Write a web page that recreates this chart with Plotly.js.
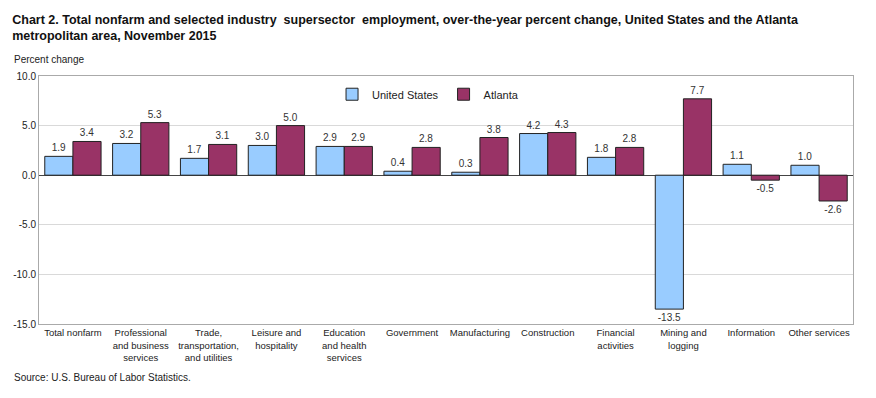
<!DOCTYPE html>
<html><head><meta charset="utf-8">
<script src="https://cdn.plot.ly/plotly-3.0.1.min.js"></script>
<style>body{margin:0;background:#fff}#c{width:876px;height:398px}</style>
</head><body><div id="c"></div>
<script>
const categories = ["Total nonfarm","Professional<br>and business<br>services","Trade,<br>transportation,<br>and utilities","Leisure and<br>hospitality","Education<br>and health<br>services","Government","Manufacturing","Construction","Financial<br>activities","Mining and<br>logging","Information","Other services"];
const unitedStates = [1.9,3.2,1.7,3.0,2.9,0.4,0.3,4.2,1.8,-13.5,1.1,1.0];
const atlanta = [3.4,5.3,3.1,5.0,2.9,2.8,3.8,4.3,2.8,7.7,-0.5,-2.6];
const yTicks = [10,5,0,-5,-10,-15];

const font = {family:"Liberation Sans, Arial, sans-serif", size:10, color:"#222"};
function bar(name, vals, color){
  return {type:"bar", name:name, x:categories, y:vals,
    marker:{color:color, line:{color:"#222", width:1}},
    text:vals.map(v=>v.toFixed(1)), textposition:"outside", cliponaxis:false,
    textfont:{family:font.family,size:10,color:"#333"}, hoverinfo:"none"};
}
const data = [bar("United States", unitedStates, "#99CCFF"), bar("Atlanta", atlanta, "#993366")];
const layout = {
  width:876, height:398, paper_bgcolor:"#fff", plot_bgcolor:"#fff",
  margin:{l:39, r:23, t:76, b:74},
  barmode:"group", bargap:0.17, bargroupgap:0,
  font:font, showlegend:true,
  legend:{orientation:"h", x:0.36, y:0.985, xanchor:"left", yanchor:"top", font:{family:font.family,size:11,color:"#222"}, bgcolor:"rgba(0,0,0,0)", traceorder:"normal", itemwidth:30},
  xaxis:{type:"category", showgrid:false, ticks:"", tickfont:{family:font.family,size:9.5,color:"#222"}, showline:true, linecolor:"#aaa", mirror:true, tickangle:0},
  yaxis:{range:[-15,10], tickvals:yTicks, ticktext:yTicks.map(v=>v.toFixed(1)), showgrid:true, gridcolor:"#d9d9d9", zeroline:true, zerolinecolor:"#444", zerolinewidth:1, showline:true, linecolor:"#aaa", mirror:true, tickfont:{family:font.family,size:10,color:"#222"}, ticks:"", ticklen:0},
  title:{text:"<b>Chart 2. Total nonfarm and selected industry  supersector  employment, over-the-year percent change, United States and the Atlanta<br>metropolitan area, November 2015</b>", x:0.014, xanchor:"left", y:0.94, yanchor:"top", font:{family:font.family,size:12.5,color:"#111"}},
  annotations:[
    {text:"Percent change", xref:"paper", yref:"paper", x:-0.033, y:1.066, xanchor:"left", yanchor:"middle", showarrow:false, font:{family:font.family,size:10,color:"#222"}},
    {text:"Source: U.S. Bureau of Labor Statistics.", xref:"paper", yref:"paper", x:-0.033, y:-0.215, xanchor:"left", yanchor:"middle", showarrow:false, font:{family:font.family,size:10,color:"#222"}}
  ]
};
Plotly.newPlot("c", data, layout, {displayModeBar:false, staticPlot:true});
</script></body></html>
